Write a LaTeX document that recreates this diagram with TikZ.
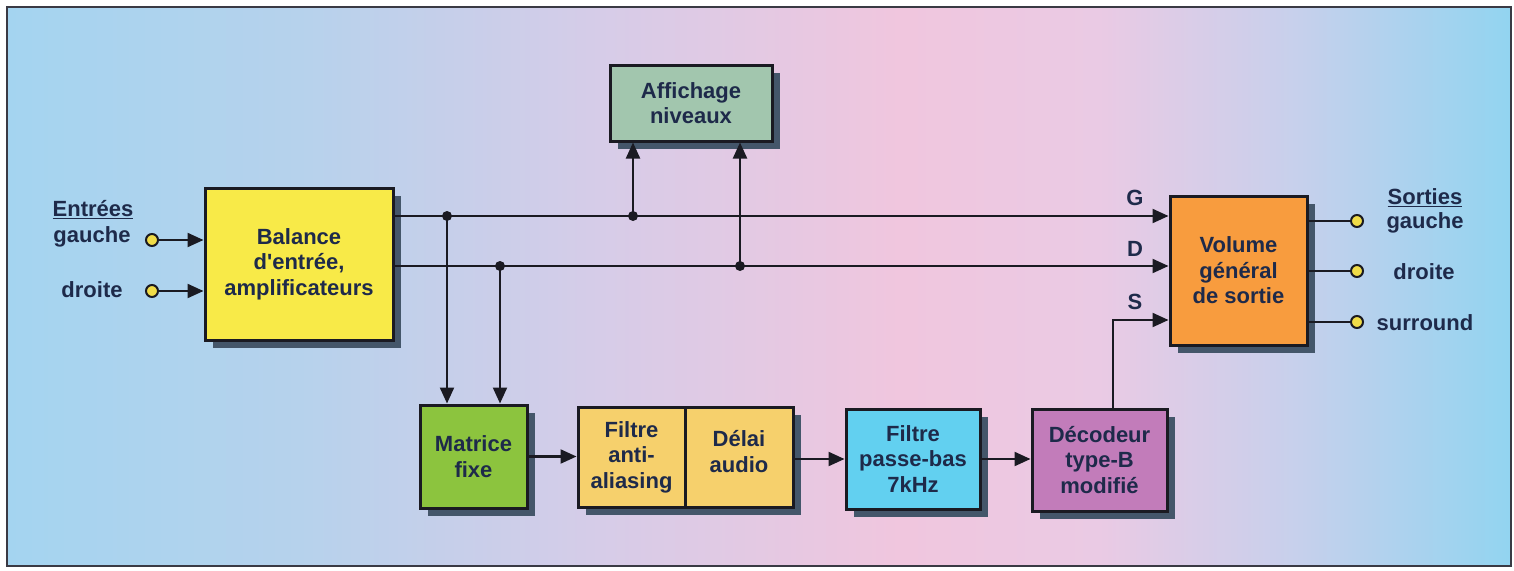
\documentclass[tikz,border=0pt]{standalone}
\usepackage{fontspec}
\setmainfont{Liberation Sans}
\usetikzlibrary{arrows.meta,shadows,calc}
\definecolor{bgA}{HTML}{A4D4F0}
\definecolor{bgB}{HTML}{B6D2EC}
\definecolor{bgC}{HTML}{D6CCE8}
\definecolor{bgD}{HTML}{F0C6DE}
\definecolor{bgE}{HTML}{EACAE4}
\definecolor{bgF}{HTML}{C6D0EC}
\definecolor{bgG}{HTML}{92D4F0}
\definecolor{navy}{HTML}{1E2A4A}
\definecolor{boxline}{HTML}{1A1A22}
\definecolor{shadowc}{HTML}{44566A}
\definecolor{cbal}{HTML}{F8EA48}
\definecolor{caff}{HTML}{A2C6AE}
\definecolor{cmat}{HTML}{8CC43E}
\definecolor{cfilt}{HTML}{F6D06C}
\definecolor{cpb}{HTML}{62D0F0}
\definecolor{cdec}{HTML}{C27CBA}
\definecolor{cvol}{HTML}{F89C3E}
\definecolor{cterm}{HTML}{F0DC48}
\definecolor{framec}{HTML}{3A3A44}
\pgfdeclarehorizontalshading{bgshade}{100bp}{color(0bp)=(bgA); color(25bp)=(bgA); color(34.7bp)=(bgB); color(44.7bp)=(bgC); color(54.7bp)=(bgD); color(61.3bp)=(bgE); color(68bp)=(bgF); color(75bp)=(bgG); color(100bp)=(bgG)}
\begin{document}
\begin{tikzpicture}[x=1pt,y=-1pt,
  box/.style={draw=boxline, line width=3pt, font=\bfseries\fontsize{22}{25.5}\selectfont, text=navy, align=center, inner sep=0pt,
    drop shadow={shadow xshift=8pt, shadow yshift=-8pt, fill=shadowc, opacity=1}},
  lbl/.style={font=\bfseries\fontsize{22}{25.5}\selectfont, text=navy, inner sep=0pt},
  wire/.style={draw=boxline, line width=2.2pt},
  arr/.style={wire, -{Triangle[length=16pt,width=14pt]}},
  term/.style={circle, draw=boxline, line width=2pt, fill=cterm, minimum size=12pt, inner sep=0pt},
  dot/.style={circle, fill=boxline, minimum size=10pt, inner sep=0pt}]
\fill[white] (0,0) rectangle (1514,570);
\useasboundingbox (0,0) rectangle (1514,570);
\path[shading=bgshade] (7,7) rectangle (1511,566);
\draw[framec, line width=1.4pt] (7,7) rectangle (1511,566);

% boxes
\node[box, fill=cbal, minimum width=188pt, minimum height=152pt] (bal) at (299,264) {Balance\\d\textquotesingle entrée,\\amplificateurs};
\node[box, fill=caff, minimum width=162pt, minimum height=76pt] (aff) at (691,103) {Affichage\\niveaux};
\node[box, fill=cmat, minimum width=107pt, minimum height=103pt] (mat) at (473.5,456.5) {Matrice\\fixe};
\node[box, fill=cfilt, minimum width=107pt, minimum height=100pt] (filt) at (631.5,457) {Filtre\\anti-\\aliasing};
\node[box, fill=cfilt, minimum width=108pt, minimum height=100pt] (delai) at (739,457) {Délai\\audio\\[-14pt]\mbox{}};
\node[box, fill=cpb, minimum width=134pt, minimum height=100pt] (pb) at (913,459) {Filtre\\passe-bas\\7kHz};
\node[box, fill=cdec, minimum width=135pt, minimum height=102pt] (dec) at (1099.5,460) {Décodeur\\type-B\\modifié};
\node[box, fill=cvol, minimum width=137pt, minimum height=149pt] (vol) at (1238.5,270.5) {Volume\\général\\de sortie};

% input labels and terminals
\node[lbl] (entrees) at (93,210) {\underline{Entrées}};
\node[lbl] (lgauche) at (92,237) {gauche};
\node[lbl] (ldroite) at (92,290) {droite};
\node[term] (ing) at (152,240) {};
\node[term] (ind) at (152,291) {};
\draw[arr] (ing) -- (ing -| bal.west);
\draw[arr] (ind) -- (ind -| bal.west);

% junctions
\coordinate (jG1) at (447,216);
\coordinate (jG2) at (633,216);
\coordinate (jD1) at (500,266);
\coordinate (jD2) at (740,266);
\draw[arr] (bal.east |- jG1) -- (vol.west |- jG1);
\draw[arr] (bal.east |- jD1) -- (vol.west |- jD1);
\draw[arr] (jG1) -- (jG1 |- mat.north);
\draw[arr] (jD1) -- (jD1 |- mat.north);
\draw[arr] (jG2) -- (jG2 |- aff.south);
\draw[arr] (jD2) -- (jD2 |- aff.south);
\node[dot] at (jG1) {};
\node[dot] at (jG2) {};
\node[dot] at (jD1) {};
\node[dot] at (jD2) {};

% lower chain
\draw[arr] (mat.east) -- (mat.east -| filt.west);
\draw[arr] (delai.east |- pb.west) -- (pb.west);
\draw[arr] (pb.east) -- (pb.east -| dec.west);
\coordinate (sT) at (1113,320);
\draw[arr] (dec.north -| sT) |- (vol.west |- sT);

% G D S labels
\node[lbl] (lG) at (1135,198) {G};
\node[lbl] (lD) at (1135,249) {D};
\node[lbl] (lS) at (1135,302) {S};

% outputs
\node[term] (og) at (1357,221) {};
\node[term] (od) at (1357,271) {};
\node[term] (os) at (1357,322) {};
\draw[wire] (vol.east |- og) -- (og);
\draw[wire] (vol.east |- od) -- (od);
\draw[wire] (vol.east |- os) -- (os);
\node[lbl] (sorties) at (1425,198) {\underline{Sorties}};
\node[lbl] (rgauche) at (1425,223) {gauche};
\node[lbl] (rdroite) at (1424,272) {droite};
\node[lbl] (rsurround) at (1425,323) {surround};
\end{tikzpicture}
\end{document}
